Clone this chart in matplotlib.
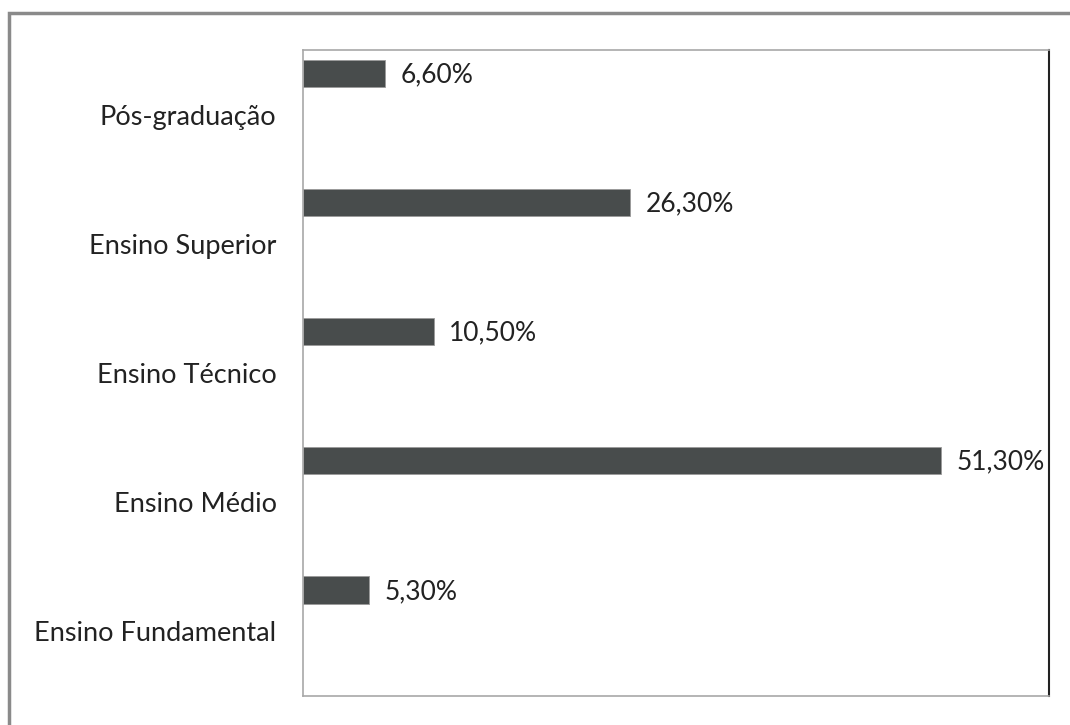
import matplotlib
matplotlib.use("Agg")
import matplotlib.pyplot as plt
from matplotlib.patches import Rectangle

categories = ["Ensino Fundamental", "Ensino Médio", "Ensino Técnico",
              "Ensino Superior", "Pós-graduação"]
values = [5.3, 51.3, 10.5, 26.3, 6.6]
value_labels = ["5,30%", "51,30%", "10,50%", "26,30%", "6,60%"]

plt.rcParams['font.family'] = ['Lato', 'DejaVu Sans']

fig = plt.figure(figsize=(10.7, 7.25), dpi=100)
fig.patch.set_facecolor("white")

# outer frame (extends past right/bottom edges)
fig.patches.append(Rectangle((9 / 1070, -0.1), 1.2, (725 - 13) / 725 + 0.1,
                             transform=fig.transFigure, fill=False,
                             edgecolor="#8a8a8a", linewidth=2.5))

ax = fig.add_axes([303 / 1070, 1 - 696 / 725, (1049 - 303) / 1070, (696 - 50) / 725])

pos = list(range(len(categories)))
offset = 0.32
ax.barh([p + offset for p in pos], values, height=0.21, color="#484c4c",
        edgecolor="#9a9a9a", linewidth=0.6)

for p, v, lab in zip(pos, values, value_labels):
    ax.annotate(lab, (v, p + offset), xytext=(11, -1), textcoords="offset points",
                ha="left", va="center", fontsize=19, color="#222222")

ax.set_xlim(0, 60)
ax.set_ylim(-0.5, len(categories) - 0.5)
ax.set_yticks(pos)
ax.set_yticklabels(categories, fontsize=19.5, color="#222222")
ax.tick_params(axis="y", length=0, pad=19)
ax.set_xticks([])

for side in ["left", "top", "bottom"]:
    ax.spines[side].set_color("#a8a8a8")
    ax.spines[side].set_linewidth(1.2)
ax.spines["right"].set_color("#222222")
ax.spines["right"].set_linewidth(1.5)

fig.savefig("out.png", dpi=100, facecolor="white")
